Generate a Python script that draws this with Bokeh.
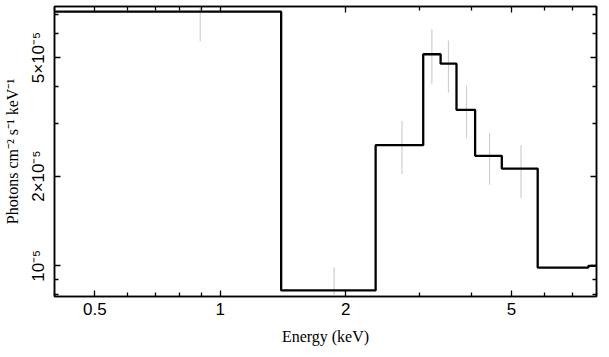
from bokeh.plotting import figure
from bokeh.models import Range1d, FixedTicker, LogAxis, CustomJSTickFormatter
from bokeh.embed import file_html
from bokeh.resources import INLINE

# Model step spectrum (bin edges in keV, flux in photons cm^-2 s^-1 keV^-1)
bin_edges = [0.4, 1.4, 2.36, 3.07, 3.38, 3.69, 4.09, 4.74, 5.78, 7.65, 8.0]
bin_flux = [7.13e-5, 8.27e-6, 2.54e-5, 5.13e-5, 4.77e-5, 3.34e-5, 2.34e-5, 2.12e-5, 9.87e-6, 1.0e-5]

# Data error bars
err_energy = [0.895, 1.876, 2.73, 3.22, 3.53, 3.90, 4.43, 5.27]
err_low = [5.67e-5, 6.5e-6, 2.03e-5, 4.08e-5, 3.82e-5, 2.68e-5, 1.87e-5, 1.69e-5]
err_high = [9.0e-5, 9.9e-6, 3.06e-5, 6.22e-5, 5.71e-5, 4.03e-5, 2.79e-5, 2.54e-5]

# Ticks
x_tick_values = [0.5, 1, 2, 5]
x_tick_labels = ["0.5", "1", "2", "5"]
x_minor_ticks = [0.4, 0.6, 0.7, 0.8, 0.9, 3, 4, 6, 7, 8]
y_tick_values = [1e-5, 2e-5, 5e-5]
y_tick_labels = ["10\u207b\u2075", "2\u00d710\u207b\u2075", "5\u00d710\u207b\u2075"]
y_minor_ticks = [8e-6, 9e-6, 3e-5, 4e-5, 6e-5, 7e-5]

x_min, x_max = 0.4, 8.0
y_min, y_max = 7.89e-6, 7.42e-5

p = figure(width=600, height=347, x_axis_type="log", y_axis_type="log",
           x_range=Range1d(x_min, x_max), y_range=Range1d(y_min, y_max),
           output_backend="svg", toolbar_location=None,
           min_border_left=50, min_border_right=4, min_border_top=6, min_border_bottom=50)
p.xgrid.visible = False
p.ygrid.visible = False
p.outline_line_color = "black"
p.outline_line_width = 1.5
p.background_fill_color = "white"
p.border_fill_color = "white"

fmt_code = """
const i = vals.findIndex(v => Math.abs(v - tick) / v < 1e-6);
return i >= 0 ? labels[i] : '';
"""
xt = FixedTicker(ticks=x_tick_values, minor_ticks=x_minor_ticks)
yt = FixedTicker(ticks=y_tick_values, minor_ticks=y_minor_ticks)
xfmt = CustomJSTickFormatter(args=dict(vals=x_tick_values, labels=x_tick_labels), code=fmt_code)
yfmt = CustomJSTickFormatter(args=dict(vals=y_tick_values, labels=y_tick_labels), code=fmt_code)
blank = CustomJSTickFormatter(code="return '';")

def style_axis(ax, show_labels):
    ax.axis_line_color = "black"
    ax.axis_line_width = 1.5
    ax.major_tick_line_color = "black"
    ax.minor_tick_line_color = "black"
    ax.major_tick_line_width = 1.3
    ax.minor_tick_line_width = 1.3
    ax.major_tick_in = 6
    ax.major_tick_out = 0
    ax.minor_tick_in = 4
    ax.minor_tick_out = 0
    if show_labels:
        ax.major_label_text_font = "Liberation Sans"
        ax.major_label_text_font_size = "17px"
        ax.major_label_text_color = "black"
        ax.axis_label_text_font = "Liberation Serif"
        ax.axis_label_text_font_size = "16px"
        ax.axis_label_text_font_style = "normal"
        ax.axis_label_text_color = "black"
    else:
        ax.major_label_standoff = 0

xa = p.xaxis[0]
xa.ticker = xt
xa.formatter = xfmt
xa.axis_label = "Energy (keV)"
style_axis(xa, True)
xa.major_label_standoff = 6
xa.axis_label_standoff = 10

ya = p.yaxis[0]
ya.ticker = yt
ya.formatter = yfmt
ya.axis_label = "Photons cm\u207b\u00b2 s\u207b\u00b9 keV\u207b\u00b9"
style_axis(ya, True)
ya.major_label_orientation = "vertical"
ya.major_label_standoff = 6
ya.axis_label_standoff = 6

top = LogAxis(ticker=xt, formatter=blank)
style_axis(top, False)
p.add_layout(top, "above")
right = LogAxis(ticker=yt, formatter=blank)
style_axis(right, False)
p.add_layout(right, "right")

p.segment(x0=err_energy, y0=err_low, x1=err_energy, y1=err_high,
          line_color="#cfcfcf", line_width=1.2)
p.step(x=bin_edges, y=bin_flux + [bin_flux[-1]], mode="after",
       line_color="black", line_width=2.3)

open("out.html", "w").write(file_html(p, INLINE))
